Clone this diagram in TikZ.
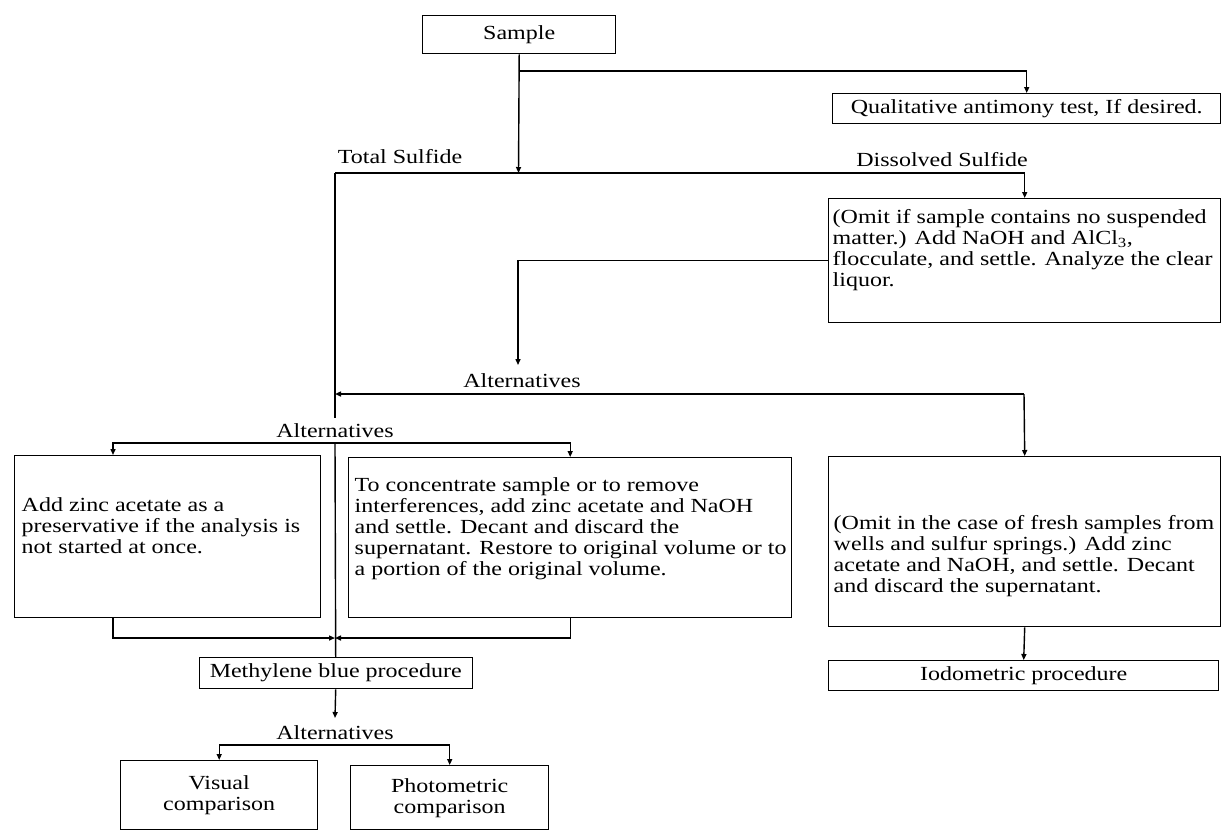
\documentclass[tikz,border=0pt]{standalone}
\usepackage{fontspec}
\setmainfont{Liberation Serif}[FakeStretch=1.2]
\usetikzlibrary{arrows.meta}
\newcommand\bxt[5]{\parbox[c][#2][t]{#1}{\raggedright\leftskip=#4\relax\vspace*{#3}#5\par}}
\tikzset{
  bx/.style={draw, line width=1.4pt, inner sep=0pt, anchor=north west},
  cbx/.style={draw, line width=1.4pt, inner sep=0pt, anchor=north west, align=center},
  lbl/.style={inner sep=1pt},
  ln/.style={line width=1.4pt},
  arr/.style={ln, -{Triangle[length=6pt,width=5pt]}},
}
\begin{document}
\begin{tikzpicture}[x=1pt,y=-1pt,font=\fontsize{20}{21}\selectfont]
\fill[white] (0,0) rectangle (1222,831);
\useasboundingbox (0,0) rectangle (1222,831);

% boxes
\node[cbx, minimum width=193pt, minimum height=38pt] (sample) at (422,15) {Sample};
\node[cbx, minimum width=388pt, minimum height=30pt] (qual) at (832,93) {Qualitative antimony test, If desired.};
\node[bx] (omit1) at (828,198) {\bxt{392pt}{124pt}{11pt}{4pt}{(Omit if sample contains no suspended\\matter.) Add NaOH and AlCl\textsubscript{3},\\flocculate, and settle. Analyze the clear\\liquor.}};
\node[bx] (lbox) at (14,455) {\bxt{306pt}{162pt}{42pt}{7pt}{Add zinc acetate as a\\preservative if the analysis is\\not started at once.}};
\node[bx] (mbox) at (348,457) {\bxt{443pt}{160pt}{20pt}{6pt}{To concentrate sample or to remove\\interferences, add zinc acetate and NaOH\\and settle. Decant and discard the\\supernatant. Restore to original volume or to\\a portion of the original volume.}};
\node[bx] (rbox) at (828,456) {\bxt{392pt}{170pt}{59pt}{5pt}{(Omit in the case of fresh samples from\\wells and sulfur springs.) Add zinc\\acetate and NaOH, and settle. Decant\\and discard the supernatant.}};
\node[cbx, minimum width=390pt, minimum height=30pt] (iod) at (828,660) {Iodometric procedure};
\node[cbx, minimum width=273pt, minimum height=31pt] (mlb) at (198.5,657) {Methylene blue procedure};
\node[cbx, minimum width=197pt, minimum height=69pt] (vis) at (120,760) {Visual\\comparison};
\node[cbx, minimum width=198pt, minimum height=64pt] (pho) at (350,765) {Photometric\\comparison};

% labels
\node[lbl] (tot) at (400,157) {Total Sulfide};
\node[lbl] (dis) at (942,160) {Dissolved Sulfide};
\node[lbl] (alt1) at (522,381) {Alternatives};
\node[lbl] (alt2) at (335,431) {Alternatives};
\node[lbl] (alt3) at (335,733) {Alternatives};

% junction coordinates
\coordinate (jS) at (518.5,173);
\coordinate (b1) at (518.5,71);
\coordinate (tl) at (335,173);
\coordinate (a1) at (518,365);
\coordinate (h1l) at (335,394);
\coordinate (h1r) at (1024,394);
\coordinate (v1e) at (335,418);
\coordinate (h2c) at (335,443);
\coordinate (h2l) at (113,443);
\coordinate (br) at (335,638);
\coordinate (brl) at (113,638);
\coordinate (a3) at (335,718);
\coordinate (h3c) at (335,745);

% connectors
\draw[arr] (sample.south) -- (jS);
\draw[arr] (b1) -| (qual.north);
\draw[arr] (tl) -| (omit1.north);
\draw[ln] (tl) -- (v1e);
\draw[arr] (omit1.west) -| (a1);
\draw[arr] (h1r) -- (h1l);
\draw[arr] (h1r) -- (rbox.north);
\draw[ln] (h2c) -- (mlb.north);
\draw[arr] (h2c) -- (h2l) -- (h2l |- lbox.north);
\draw[arr] (h2c) -| (mbox.north);
\draw[arr] (lbox.south -| brl) -- (brl) -- (br);
\draw[arr] (mbox.south) |- (br);
\draw[arr] (mlb.south) -- (a3);
\draw[arr] (h3c) -| (vis.north);
\draw[arr] (h3c) -| (pho.north);
\draw[arr] (rbox.south) -- (iod.north);
\end{tikzpicture}
\end{document}
